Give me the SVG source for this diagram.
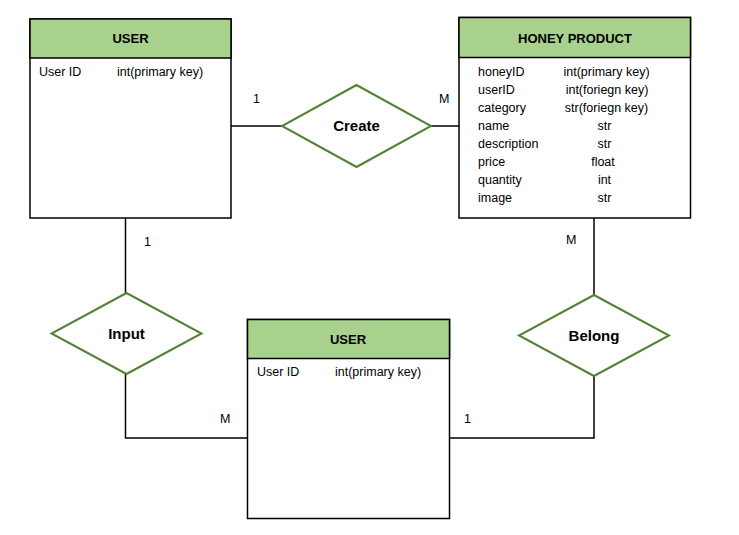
<svg xmlns="http://www.w3.org/2000/svg" width="739" height="535" viewBox="0 0 739 535">
<style>
.box{fill:#fff;stroke:#000;stroke-width:1.5}
.hdr{fill:#a9d18e;stroke:#000;stroke-width:1.5}
.dia{fill:#fff;stroke:#548235;stroke-width:2}
.ln{fill:none;stroke:#000;stroke-width:1.5}
text{font-family:"Liberation Sans",Arial,sans-serif;fill:#000}
.t{font-size:13px;font-weight:bold;text-anchor:middle}
.r{font-size:15px;font-weight:bold;text-anchor:middle}
.a{font-size:12.5px}
.m{font-size:12.5px;text-anchor:middle}
.c{font-size:12.5px}
</style>
<rect width="739" height="535" fill="#fff"/>
<g id="connectors">
<polyline class="ln" points="231,126 282,126"/>
<polyline class="ln" points="431,126 459,126"/>
<polyline class="ln" points="125.5,218 125.5,293"/>
<polyline class="ln" points="125.5,374 125.5,438 247,438"/>
<polyline class="ln" points="594,218 594,295"/>
<polyline class="ln" points="594,376 594,438 449,438"/>
<text class="c" x="253" y="103">1</text>
<text class="c" x="439" y="103">M</text>
<text class="c" x="144" y="246">1</text>
<text class="c" x="566" y="244">M</text>
<text class="c" x="220" y="423">M</text>
<text class="c" x="464" y="423">1</text>
</g>
<g id="user-top">
<rect class="box" x="30" y="19" width="201" height="199"/>
<rect class="hdr" x="30" y="19" width="201" height="39"/>
<text class="t" x="130.5" y="43">USER</text>
<text class="a" x="39" y="76">User ID</text>
<text class="a" x="117" y="76">int(primary key)</text>
</g>
<g id="honey-product">
<rect class="box" x="459" y="17.5" width="231.5" height="200.5"/>
<rect class="hdr" x="459" y="17.5" width="231.5" height="40"/>
<text class="t" x="575" y="43">HONEY PRODUCT</text>
<text class="a" x="478" y="75.5">honeyID</text>
<text class="a" x="478" y="93.5">userID</text>
<text class="a" x="478" y="111.5">category</text>
<text class="a" x="478" y="129.5">name</text>
<text class="a" x="478" y="147.5">description</text>
<text class="a" x="478" y="165.5">price</text>
<text class="a" x="478" y="183.5">quantity</text>
<text class="a" x="478" y="201.5">image</text>
<text class="m" x="606.5" y="75.5">int(primary key)</text>
<text class="m" x="607" y="93.5">int(foriegn key)</text>
<text class="m" x="606.5" y="111.5">str(foriegn key)</text>
<text class="m" x="604.5" y="129.5">str</text>
<text class="m" x="604.5" y="147.5">str</text>
<text class="m" x="603" y="165.5">float</text>
<text class="m" x="604.5" y="183.5">int</text>
<text class="m" x="604.5" y="201.5">str</text>
</g>
<g id="user-bottom">
<rect class="box" x="247.5" y="319.5" width="202" height="199"/>
<rect class="hdr" x="247.5" y="319.5" width="202" height="39"/>
<text class="t" x="348" y="344">USER</text>
<text class="a" x="257" y="376">User ID</text>
<text class="a" x="335" y="376">int(primary key)</text>
</g>
<g id="create">
<polygon class="dia" points="356.5,85 431,126 356.5,167 282,126"/>
<text class="r" x="356.5" y="131">Create</text>
</g>
<g id="input">
<polygon class="dia" points="126.5,293 201.5,333.5 126.5,374 51.5,333.5"/>
<text class="r" x="126.5" y="339">Input</text>
</g>
<g id="belong">
<polygon class="dia" points="594,295 669,335.5 594,376 519,335.5"/>
<text class="r" x="594" y="341">Belong</text>
</g>
</svg>
